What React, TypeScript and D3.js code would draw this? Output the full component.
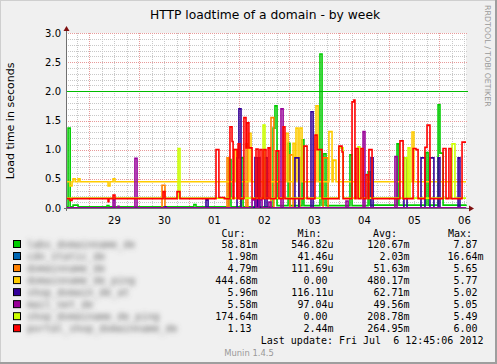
import React from 'react';
import * as d3 from 'd3';

const width = 497;
const height = 364;
const plotLeft = 66;
const plotRight = 466;
const plotTop = 33;
const plotBottom = 208;
const charW = 6.02;

const startTime = new Date(2012, 5, 28, 12, 45);
const endTime = new Date(2012, 6, 6, 12, 45);

// load time in seconds, [hours since start, value] step points
const greenLoad: [number, number][] = [
  [0, 0.02], [1, 1.37], [2, 0.02], [3.4, 0.05], [5.8, 0.02], [19.7, 0.04], [20.6, 0.02],
  [61.4, 0.06], [62.4, 0.02], [78.2, 0.83], [79.2, 0.02], [84, 0.86], [85, 0.02],
  [99.4, 1.37], [100.3, 1.75], [101.3, 0.04], [106.6, 1.11], [107.5, 0.04], [113.3, 1.17],
  [114.2, 0.04], [121.9, 2.64], [122.9, 0.05], [123.8, 0.93], [124.8, 0.04], [136.3, 0.91],
  [137.3, 0.04], [145, 0.62], [145.9, 0.05], [158.9, 1.1], [159.8, 0.05], [172.8, 0.95],
  [173.8, 0.05], [178.6, 1.77], [179.5, 0.94], [181, 0.05], [192, 0.06],
];
const blueLoad: [number, number][] = [[0, 0.002], [192, 0.002]];
const orangeLoad: [number, number][] = [
  [0, 0.005], [46.1, 0.39], [47.5, 0.005], [77.3, 0.86], [78.2, 0.005], [86.4, 1.1],
  [87.3, 0.005], [98.4, 1.55], [99.8, 0.005], [107.5, 0.91], [109, 0.005], [111.8, 0.86],
  [112.3, 0.005], [123.4, 0.86], [125.8, 0.005], [192, 0.005],
];
const yellowLoad: [number, number][] = [
  [0, 0.45], [1.9, 0.38], [2.9, 0.45], [3.4, 0.5], [4.4, 0.45], [5.8, 0.5], [6.7, 0.45],
  [20.2, 0.38], [21.1, 0.45], [22.6, 0.5], [23.5, 0.45], [80.6, 1.0], [81.6, 0.45],
  [87.8, 1.28], [88.8, 0.45], [105.6, 1.28], [106.6, 0.45], [109, 1.11], [109.9, 0.45],
  [110.4, 1.37], [111.4, 0.45], [112.3, 1.37], [113.3, 0.45], [120, 1.75], [121, 0.45],
  [126.2, 1.31], [127.7, 0.45], [128.2, 0.82], [129.6, 0.45], [166.1, 1.3], [167, 0.45],
  [192, 0.45],
];
const indigoLoad: [number, number][] = [
  [0, 0.005], [47.5, 0.02], [48, 0.005], [67.2, 0.14], [68.2, 0.005], [82.1, 0.86],
  [83, 1.7], [84, 0.005], [90.7, 0.86], [91.7, 0.005], [92.2, 0.86], [93.1, 0.005],
  [95.5, 0.86], [96.5, 0.005], [109.9, 0.86], [111.8, 0.005], [117.6, 1.65], [118.6, 0.005],
  [146.4, 0.86], [147.4, 0.005], [162.2, 0.86], [163.7, 0.005], [170.4, 0.86], [172.3, 0.005],
  [174.7, 0.86], [176.6, 0.005], [178.6, 0.86], [179.5, 0.005], [188.2, 0.86], [189.1, 0.005],
  [192, 0.006],
];
const purpleLoad: [number, number][] = [
  [0, 0.005], [22.6, 0.14], [23.5, 0.005], [25, 0.03], [25.4, 0.005], [33.1, 0.85],
  [34.1, 0.005], [89.3, 0.14], [91.2, 0.005], [92.6, 0.14], [94.1, 0.005], [97.4, 0.1],
  [98.4, 0.005], [103.2, 1.7], [104.2, 0.005], [134.4, 0.12], [135.4, 0.005], [142.6, 1.31],
  [143.5, 0.005], [157.9, 0.88], [158.9, 0.005], [192, 0.005],
];
const limeLoad: [number, number][] = [
  [0, 0.17], [53.8, 1.02], [54.7, 0.17], [94.6, 1.42], [95.5, 0.17], [131, 1.03], [133, 0.17],
  [140.2, 1.05], [141.1, 0.17], [162.7, 0.86], [163.7, 0.17], [164.2, 1.03], [165.1, 0.17],
  [185.3, 1.1], [186.7, 0.17], [192, 0.17],
];
const redLoad: [number, number][] = [
  [0, 0.16], [1.9, 0.13], [2.9, 0.16], [20.2, 0.11], [20.6, 0.16], [22.6, 0.22], [23.5, 0.16],
  [46.6, 0.28], [47.5, 0.16], [53.3, 0.28], [54.7, 0.16], [72, 1.0], [73.4, 0.18], [76, 0.16],
  [78.7, 1.39], [79.7, 1.14], [80.2, 0.16], [80.6, 1.0], [82.1, 0.16], [82.6, 1.1], [83.5, 0.16],
  [85.4, 1.55], [86.4, 1.03], [86.9, 1.46], [87.8, 1.03], [89.3, 0.16], [91.2, 1.01], [92.2, 0.16],
  [93.1, 1.0], [94.1, 0.16], [95, 1.0], [96, 0.16], [97, 1.03], [97.9, 0.16], [100.8, 0.98],
  [102.2, 0.16], [104.2, 1.39], [105.1, 0.16], [114.2, 1.06], [115.7, 0.16], [119.5, 1.25],
  [120.5, 1.0], [122.9, 0.16], [131, 1.06], [132.5, 0.96], [133, 0.16], [137.3, 1.82],
  [138.2, 1.85], [138.7, 0.16], [139.2, 1.02], [140.2, 0.16], [141.6, 1.02], [142.6, 0.16],
  [144, 0.57], [145, 0.16], [145.4, 1.0], [146.9, 0.16], [160.3, 1.15], [161.8, 0.16],
  [166.6, 1.02], [168, 1.0], [169, 0.16], [172.3, 1.04], [173.3, 1.42], [174.7, 0.16],
  [181, 1.02], [182.4, 0.16], [183.8, 1.02], [184.8, 0.16], [190.1, 1.13], [192, 1.13],
];

const seriesData = [greenLoad, blueLoad, orangeLoad, yellowLoad, indigoLoad, purpleLoad, limeLoad, redLoad];
const seriesColors = ['#00CC00', '#0066B3', '#FF8000', '#FFCC00', '#330099', '#990099', '#CCFF00', '#FF0000'];
const seriesNames = [
  'labs_domainname_de', 'cdn_static_de', 'domainname_de', 'domainname_de_ping',
  'shop_domain_de_at', 'mail_net_de', 'shop_domainame_de_ping', 'portal_shop_domainname_de',
];
const curValues = ['58.81m', '1.98m', '4.79m', '444.68m', '5.96m', '5.58m', '174.64m', '1.13'];
const minValues = ['546.82u', '41.46u', '111.69u', '0.00', '116.11u', '97.04u', '0.00', '2.44m'];
const avgValues = ['120.67m', '2.03m', '51.63m', '480.17m', '62.71m', '49.56m', '208.78m', '264.95m'];
const maxValues = ['7.87', '16.64m', '5.65', '5.77', '5.02', '5.05', '5.49', '6.00'];
const yTicks = [0, 0.5, 1, 1.5, 2, 2.5, 3];
const warnLevel = 2.0;

const x = d3.scaleTime().domain([startTime, endTime]).range([plotLeft, plotRight]);
const y = d3.scaleLinear().domain([0, 3]).range([plotBottom, plotTop]);
const toDate = (h: number) => d3.timeMinute.offset(startTime, Math.round(h * 60));

const loadLine = d3.line<[number, number]>()
  .x(d => x(toDate(d[0])))
  .y(d => y(d[1]))
  .curve(d3.curveStepAfter);

const majorDays = d3.timeDay.range(startTime, endTime);
const minorHours = d3.timeHour.every(6)!.range(startTime, endTime).filter(d => d.getHours() !== 0);
const dayLabels = d3.timeHour.range(startTime, d3.timeMinute.offset(endTime, 1)).filter(d => d.getHours() === 12);
const minorY = d3.range(1, 31).map(i => i / 10).filter(v => Math.round(v * 10) % 5 !== 0);
const fmtDay = d3.timeFormat('%d');
const fmtY = d3.format('.1f');

const colEnds = [257.5, 333.5, 409.5, 483.5];
const valueX = (end: number, s: string) => (/[a-z]$/.test(s) ? end : end - charW);

const App = () => {
  const sans = 'DejaVu Sans, sans-serif';
  const mono = 'DejaVu Sans Mono, monospace';
  return (
    <svg width={width} height={height} style={{ position: 'absolute', left: 0, top: 0 }}>
      <defs>
        <clipPath id="plotClip">
          <rect x={plotLeft} y={plotTop - 2} width={plotRight - plotLeft + 2} height={plotBottom - plotTop + 3} />
        </clipPath>
        <filter id="blurName" x="-10%" y="-60%" width="120%" height="220%">
          <feGaussianBlur stdDeviation="2.4" />
        </filter>
      </defs>
      <rect width={width} height={height} fill="#F0F0F0" />
      <line x1={0} x2={width} y1={0.5} y2={0.5} stroke="#CFCFCF" />
      <line x1={0.5} x2={0.5} y1={0} y2={height} stroke="#CFCFCF" />
      <rect x={width - 2} y={0} width={2} height={height} fill="#9E9E9E" />
      <rect x={0} y={height - 2} width={width} height={2} fill="#9E9E9E" />

      <text x={265} y={18.5} textAnchor="middle" fontFamily={sans} fontSize={12.3} fill="#000">
        HTTP loadtime of a domain - by week
      </text>
      <text transform="translate(485,5) rotate(90)" fontFamily={sans} fontSize={7.9} fill="#999">
        RRDTOOL / TOBI OETIKER
      </text>
      <text transform="translate(14,121) rotate(-90)" textAnchor="middle" fontFamily={sans} fontSize={11} fill="#000">
        Load time in seconds
      </text>

      <rect x={plotLeft} y={plotTop} width={plotRight - plotLeft} height={plotBottom - plotTop} fill="#FFFFFF" />

      {minorHours.map((d, i) => (
        <line key={'mv' + i} x1={Math.round(x(d)) + 0.5} x2={Math.round(x(d)) + 0.5} y1={plotTop} y2={plotBottom}
          stroke="#C8C8C8" strokeDasharray="1,1" />
      ))}
      {minorY.map((v, i) => (
        <line key={'mh' + i} x1={plotLeft} x2={plotRight + 2} y1={Math.round(y(v)) + 0.5} y2={Math.round(y(v)) + 0.5}
          stroke="#C8C8C8" strokeDasharray="1,1" />
      ))}
      {majorDays.map((d, i) => (
        <line key={'Mv' + i} x1={Math.round(x(d)) + 0.5} x2={Math.round(x(d)) + 0.5} y1={plotTop} y2={plotBottom}
          stroke="#E89A9A" strokeDasharray="1,1" />
      ))}
      {yTicks.slice(1).map((v, i) => (
        <line key={'Mh' + i} x1={plotLeft} x2={plotRight + 2} y1={Math.round(y(v)) + 0.5} y2={Math.round(y(v)) + 0.5}
          stroke="#E89A9A" strokeDasharray="1,1" />
      ))}

      <g clipPath="url(#plotClip)">
        {seriesData.map((data, i) => (
          <path key={'s' + i} d={loadLine(data) || ''} fill="none" stroke={seriesColors[i]} strokeWidth={1.6} />
        ))}
      </g>
      <line x1={plotLeft} x2={plotRight + 2} y1={Math.round(y(warnLevel)) + 0.5} y2={Math.round(y(warnLevel)) + 0.5}
        stroke="#00BB00" strokeWidth={1} />

      <line x1={plotLeft + 0.5} x2={plotLeft + 0.5} y1={plotBottom + 3} y2={plotTop - 4} stroke="#707070" />
      <line x1={plotLeft - 2} x2={plotRight + 5} y1={plotBottom + 0.5} y2={plotBottom + 0.5} stroke="#707070" />
      <path d={`M${plotLeft - 2.5},${plotTop - 2} L${plotLeft + 0.5},${plotTop - 7} L${plotLeft + 3.5},${plotTop - 2} Z`} fill="#7F1010" />
      <path d={`M${plotRight + 3},${plotBottom - 2.5} L${plotRight + 8},${plotBottom + 0.5} L${plotRight + 3},${plotBottom + 3.5} Z`} fill="#7F1010" />

      {yTicks.map((v, i) => (
        <text key={'yl' + i} x={61} y={y(v) + 3.5} textAnchor="end" fontFamily={sans} fontSize={10} fill="#000">
          {fmtY(v)}
        </text>
      ))}
      {dayLabels.map((d, i) => (
        <text key={'xl' + i} x={x(d)} y={224} textAnchor="middle" fontFamily={sans} fontSize={10} fill="#000">
          {fmtDay(d)}
        </text>
      ))}

      <g fontFamily={mono} fontSize={10} fill="#000">
        <text x={221.5} y={237}>Cur:</text>
        <text x={297.5} y={237}>Min:</text>
        <text x={373} y={237}>Avg:</text>
        <text x={448} y={237}>Max:</text>
        {seriesNames.map((name, i) => {
          const by = 247.5 + i * 12.03;
          return (
            <g key={'lg' + i}>
              <rect x={13.5} y={by - 7} width={7} height={7} fill={seriesColors[i]} stroke="#000" />
              <text x={27} y={by} fill="#666" filter="url(#blurName)">{name}</text>
              <text x={valueX(colEnds[0], curValues[i])} y={by} textAnchor="end">{curValues[i]}</text>
              <text x={valueX(colEnds[1], minValues[i])} y={by} textAnchor="end">{minValues[i]}</text>
              <text x={valueX(colEnds[2], avgValues[i])} y={by} textAnchor="end">{avgValues[i]}</text>
              <text x={valueX(colEnds[3], maxValues[i])} y={by} textAnchor="end">{maxValues[i]}</text>
            </g>
          );
        })}
        <text x={483.5} y={343.5} textAnchor="end" style={{ whiteSpace: 'pre' }}>
          Last update: Fri Jul  6 12:45:06 2012
        </text>
      </g>
      <text x={249} y={356} textAnchor="middle" fontFamily={sans} fontSize={8.4} fill="#999">
        Munin 1.4.5
      </text>
    </svg>
  );
};

export default App;
